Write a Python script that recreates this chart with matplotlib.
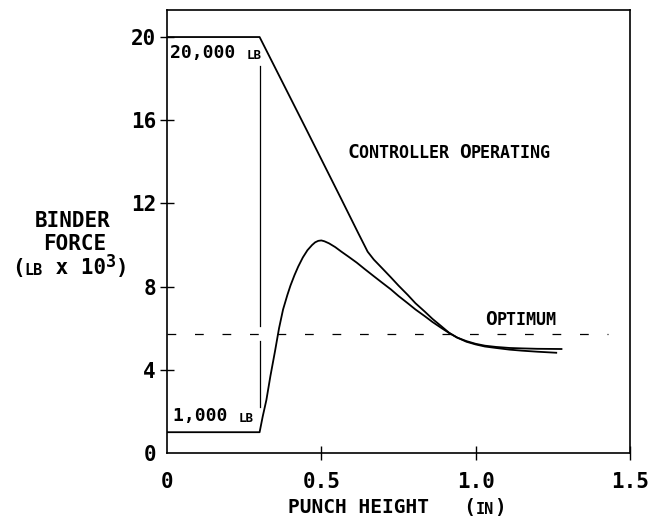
import matplotlib
matplotlib.use("Agg")
import matplotlib.pyplot as plt

# punch height (in) vs binder force (lb x 10^3)
ctrl_x = [0.0, 0.30, 0.45, 0.565, 0.62, 0.65, 0.67, 0.696, 0.725, 0.75, 0.78, 0.805, 0.835,
          0.86, 0.89, 0.914, 0.94, 0.97, 1.0, 1.03, 1.066, 1.11, 1.15, 1.2, 1.278]
ctrl_y = [20.0, 20.0, 15.6, 12.2, 10.56, 9.68, 9.3, 8.9, 8.45, 8.05, 7.6, 7.2, 6.8,
          6.45, 6.08, 5.78, 5.55, 5.38, 5.25, 5.16, 5.1, 5.05, 5.03, 5.01, 5.0]

low_x = [0.0, 0.30, 0.31, 0.322, 0.335, 0.35, 0.363, 0.376, 0.39, 0.40, 0.413, 0.425, 0.44,
         0.455, 0.47, 0.48, 0.49, 0.50, 0.51, 0.525, 0.545, 0.565, 0.588, 0.615, 0.64, 0.67,
         0.696, 0.725, 0.75, 0.78, 0.805, 0.835, 0.86, 0.89, 0.914, 0.94, 0.97, 1.0, 1.03,
         1.066, 1.11, 1.15, 1.2, 1.261]
low_y = [1.0, 1.0, 1.75, 2.55, 3.7, 4.9, 6.0, 6.9, 7.6, 8.05, 8.55, 8.96, 9.4,
         9.75, 10.0, 10.13, 10.2, 10.22, 10.18, 10.08, 9.9, 9.68, 9.44, 9.15, 8.85, 8.5,
         8.2, 7.87, 7.55, 7.2, 6.9, 6.58, 6.3, 6.0, 5.77, 5.55, 5.35, 5.22, 5.12,
         5.05, 4.97, 4.92, 4.87, 4.82]

jump_x = 0.30
jump_segs = [(2.2, 5.4), (6.1, 18.6)]

optimum = 5.7
opt_end = 1.43

xticks = [0.0, 0.5, 1.0, 1.5]
xticklabels = ["0", "0.5", "1.0", "1.5"]
yticks = [0, 4, 8, 12, 16, 20]

FONT = "DejaVu Sans Mono"

fig = plt.figure(figsize=(6.61, 5.21), dpi=100)
ax = fig.add_axes([167 / 661, 68 / 521, 463 / 661, 443 / 521])

ax.plot(ctrl_x, ctrl_y, color="black", lw=1.3)
ax.plot(low_x, low_y, color="black", lw=1.3)
for y0, y1 in jump_segs:
    ax.plot([jump_x, jump_x], [y0, y1], color="black", lw=0.9)
ax.plot([0, opt_end], [optimum, optimum], color="black", lw=0.9, dashes=(7, 15))

ax.set_xlim(0, 1.5)
ax.set_ylim(0, 21.3)
ax.set_xticks(xticks)
ax.set_xticklabels(xticklabels)
ax.set_yticks(yticks)
ax.tick_params(direction="inout", length=10, width=1, labelsize=15, pad=3)
ax.tick_params(axis="x", pad=9)
ax.xaxis.get_major_ticks()[0].tick1line.set_visible(False)
ax.yaxis.get_major_ticks()[0].tick1line.set_visible(False)
for lab in ax.get_xticklabels() + ax.get_yticklabels():
    lab.set_fontfamily(FONT)
    lab.set_fontweight("bold")
for s in ax.spines.values():
    s.set_linewidth(1.2)


def chain(x, y, parts, coords):
    """draw pieces of text one after the other (for the small caps)"""
    s, size, dy = parts[0]
    prev = ax.annotate(s, xy=(x, y), xycoords=coords, xytext=(0, dy), textcoords="offset points",
                       fontsize=size, fontfamily=FONT, fontweight="bold", va="bottom", ha="left",
                       annotation_clip=False)
    for s, size, dy in parts[1:]:
        prev = ax.annotate(s, xy=(1, 0), xycoords=prev, xytext=(0, dy), textcoords="offset points",
                           fontsize=size, fontfamily=FONT, fontweight="bold", va="bottom", ha="left",
                           annotation_clip=False)
    return prev


chain(0.01, 18.8, [("20,000 ", 13, 0), ("LB", 9, 0)], "data")
chain(0.02, 1.35, [("1,000 ", 13, 0), ("LB", 9, 0)], "data")
chain(0.585, 14.0, [("C", 14, 0), ("ONTROLLER ", 12, 0), ("O", 14, 0), ("PERATING", 12, 0)], "data")
chain(1.03, 5.95, [("O", 14, 0), ("PTIMUM", 12, 0)], "data")

# axis titles
chain(288 / 661, 4 / 521, [("PUNCH HEIGHT   (", 14, 0), ("IN", 11, 0), (")", 14, 0)], "figure fraction")
chain(35 / 661, 290 / 521, [("BINDER", 15, 0)], "figure fraction")
chain(43 / 661, 267 / 521, [("FORCE", 15, 0)], "figure fraction")
chain(12 / 661, 243 / 521, [("(", 15, 0), ("LB", 11, 0), (" x 10", 15, 0), ("3", 12, 5),
                            (")", 15, -5)], "figure fraction")

fig.savefig("out.png", dpi=100)
